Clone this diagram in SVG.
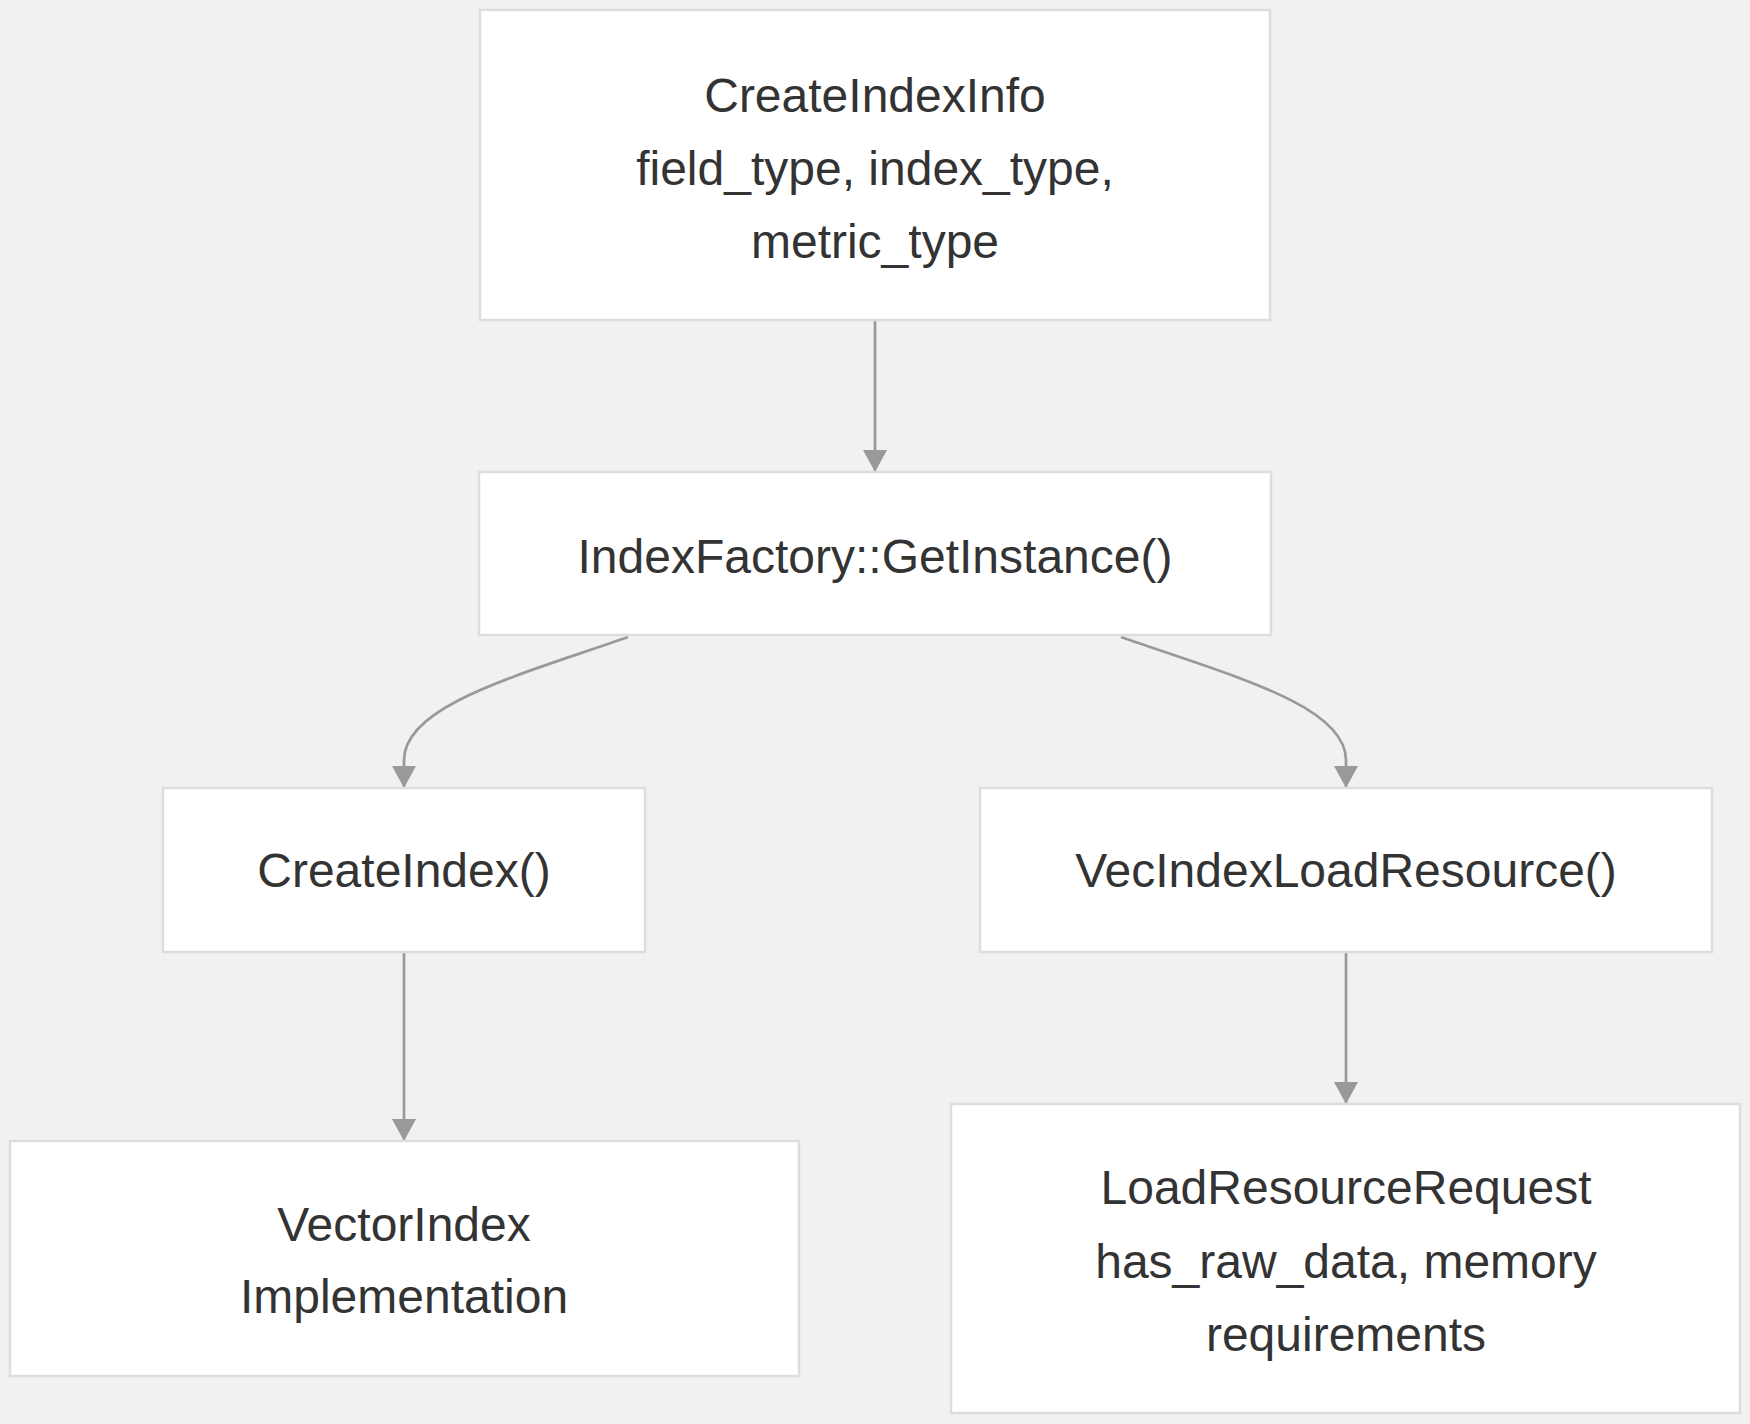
<svg xmlns="http://www.w3.org/2000/svg" width="1750" height="1424" viewBox="0 0 1750 1424">
  <style>
    .node rect { fill: #ffffff; stroke: #dddddd; stroke-width: 2.5; }
    .node text { font-family: "Liberation Sans", Arial, sans-serif; font-size: 48px; fill: #333333; text-anchor: middle; }
    .edge { fill: none; stroke: #999999; stroke-width: 2.7; }
  </style>
  <defs>
    <marker id="arrow" viewBox="0 0 22 24" refX="21" refY="12" markerWidth="22" markerHeight="24" markerUnits="userSpaceOnUse" orient="auto">
      <path d="M0,0 L22,12 L0,24 z" fill="#999999"/>
    </marker>
  </defs>
  <rect x="0" y="0" width="1750" height="1424" fill="#f2f1ef"/>

  <g id="connectors">
    <path class="edge" d="M875,321 L875,471" marker-end="url(#arrow)"/>
    <path class="edge" d="M628,637 C520,675 404,705 404,760 L404,787" marker-end="url(#arrow)"/>
    <path class="edge" d="M1121,637 C1229,675 1346,705 1346,760 L1346,787" marker-end="url(#arrow)"/>
    <path class="edge" d="M404,953 L404,1140" marker-end="url(#arrow)"/>
    <path class="edge" d="M1346,953 L1346,1103" marker-end="url(#arrow)"/>
  </g>

  <g id="node-createindexinfo" class="node">
    <rect x="480" y="10" width="790" height="310"/>
    <text x="875" y="112">CreateIndexInfo</text>
    <text x="875" y="185">field_type, index_type,</text>
    <text x="875" y="258">metric_type</text>
  </g>

  <g id="node-indexfactory" class="node">
    <rect x="479" y="472" width="792" height="163"/>
    <text x="875" y="573">IndexFactory::GetInstance()</text>
  </g>

  <g id="node-createindex" class="node">
    <rect x="163" y="788" width="482" height="164"/>
    <text x="404" y="887">CreateIndex()</text>
  </g>

  <g id="node-vecindexloadresource" class="node">
    <rect x="980" y="788" width="732" height="164"/>
    <text x="1346" y="887">VecIndexLoadResource()</text>
  </g>

  <g id="node-vectorindex" class="node">
    <rect x="10" y="1141" width="789" height="235"/>
    <text x="404" y="1241">VectorIndex</text>
    <text x="404" y="1313">Implementation</text>
  </g>

  <g id="node-loadresourcerequest" class="node">
    <rect x="951" y="1104" width="789" height="309"/>
    <text x="1346" y="1204">LoadResourceRequest</text>
    <text x="1346" y="1278">has_raw_data, memory</text>
    <text x="1346" y="1351">requirements</text>
  </g>
</svg>
